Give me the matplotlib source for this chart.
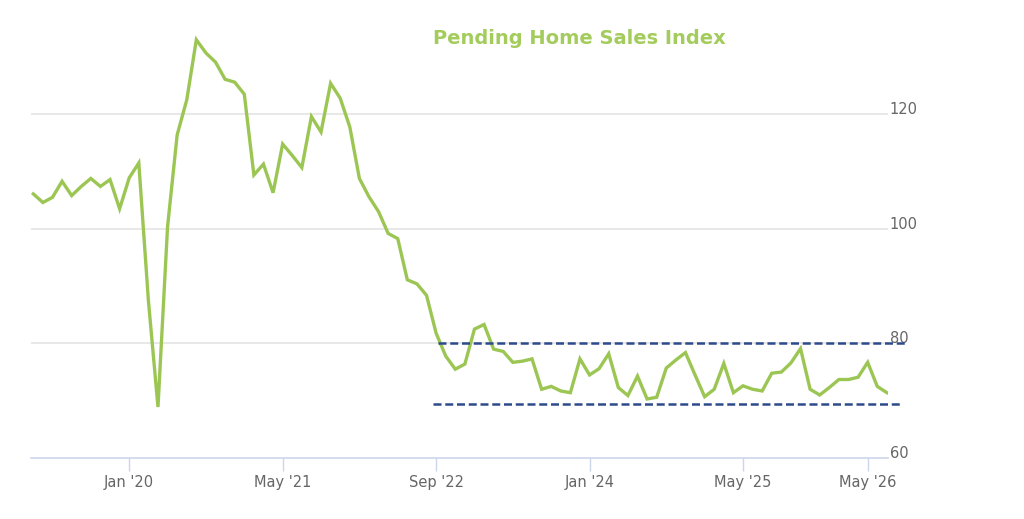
import numpy as np
import matplotlib
matplotlib.use('Agg')
import matplotlib.pyplot as plt

### DATA
# monthly index values, first point is Mar 2019
index_values = [
    106.1, 104.6, 105.5, 108.3, 105.8, 107.4, 108.8, 107.4, 108.6, 103.5,  # Mar19-Dec19
    108.9, 111.5, 87.5, 68.9, 100.4, 116.4, 122.5, 133.0, 130.7, 129.1,    # Jan20-Oct20
    126.1, 125.6, 123.5, 109.4, 111.3, 106.3, 114.8, 112.8, 110.7, 119.6,  # Nov20-Aug21
    116.9, 125.4, 122.8, 117.8, 108.8, 105.6, 103.0, 99.2, 98.3, 91.1,     # Sep21-Jun22
    90.4, 88.4, 81.8, 77.8, 75.5, 76.4, 82.5, 83.3, 79.0, 78.6,            # Jul22-Apr23
    76.7, 76.9, 77.3, 72.0, 72.5, 71.7, 71.4, 77.3, 74.5, 75.6,            # May23-Feb24
    78.2, 72.3, 70.9, 74.3, 70.3, 70.6, 75.7, 77.1, 78.4, 74.5,            # Mar24-Dec24
    70.7, 72.0, 76.5, 71.4, 72.6, 72.0, 71.7, 74.8, 75.0, 76.6,            # Jan25-Oct25
    79.1, 72.0, 71.0, 72.3, 73.7, 73.7, 74.1, 76.7, 72.5, 71.4,            # Nov25-Aug26
]
tick_months = [10, 26, 42, 58, 74, 87]
tick_labels = ["Jan '20", "May '21", "Sep '22", "Jan '24", "May '25", "May '26"]
y_ticks = [60, 80, 100, 120]

# dashed range lines
band_top = 80
band_bottom = 69.4
band_top_span = [42.2, 90.9]
band_bottom_span = [41.7, 90.4]

### PLOT
months = np.arange(len(index_values))

fig = plt.figure(figsize=(10.24, 5.19), dpi=100)
W, H = 1024, 519
ax = fig.add_axes([31/W, (H-458)/H, (888-31)/W, (458-10)/H])

green = '#9cc654'
navy = '#2d4a8a'

for yv in y_ticks[1:]:
    ax.axhline(yv, color='#e6e6e6', lw=1.3, zorder=1)

ax.plot(months, index_values, color=green, lw=2.4, zorder=3, solid_joinstyle='miter')

ax.plot(band_top_span, [band_top, band_top], color=navy, lw=1.8,
        dashes=(3.2, 1.5), clip_on=False, zorder=4)
ax.plot(band_bottom_span, [band_bottom, band_bottom], color=navy, lw=1.8,
        dashes=(3.2, 1.5), clip_on=False, zorder=4)

ax.set_xlim(-0.24, 89.12)
ax.set_ylim(60, 138.2)

for s in ['top', 'right', 'left']:
    ax.spines[s].set_visible(False)
ax.spines['bottom'].set_color('#ccd6eb')
ax.spines['bottom'].set_linewidth(1.2)

ax.set_xticks(tick_months)
ax.set_xticklabels(tick_labels, fontsize=10.5, color='#666666')
ax.tick_params(axis='x', length=9, width=1, color='#ccd6eb', pad=3)

ax.set_yticks([])
for yv in y_ticks:
    ax.text(1.002, yv, str(yv), transform=ax.get_yaxis_transform(),
            ha='left', va='baseline', fontsize=10.5, color='#666666')

fig.text(579/W, 1 - 38/H, 'Pending Home Sales Index', ha='center', va='center',
         fontsize=14, fontweight='bold', color='#a3cc5c')

fig.savefig('out.png', dpi=100)
